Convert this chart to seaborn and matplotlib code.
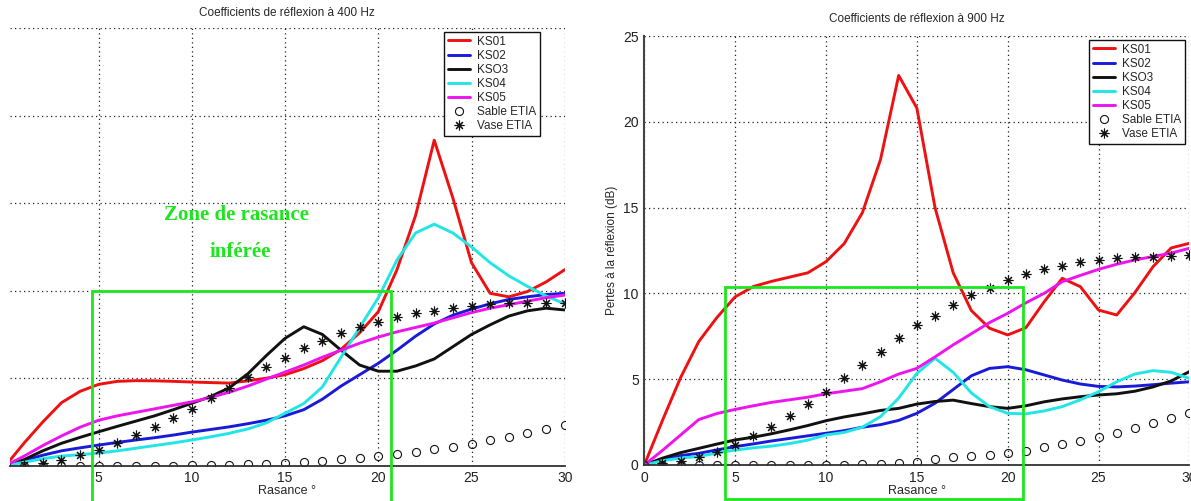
import numpy as np
import pandas as pd
import seaborn as sns
import matplotlib.pyplot as plt
from matplotlib.patches import Rectangle

sns.set_theme(style="white")
plt.rcParams['font.family'] = ['Liberation Sans', 'DejaVu Sans']

# rasance angles (deg)
rasance = list(range(0, 31))
rasance_etia = list(range(1, 31))

# --- 400 Hz ---
ks01_400 = [0, 1.3, 2.5, 3.6, 4.25, 4.65, 4.82, 4.86, 4.85, 4.82, 4.78, 4.75, 4.72, 4.85, 5.0,
            5.2, 5.55, 6.0, 6.65, 7.6, 8.8, 11.2, 14.3, 18.6, 15.3, 11.6, 9.85, 9.65, 9.95, 10.5, 11.2]
ks02_400 = [0, 0.3, 0.6, 0.85, 1.02, 1.18, 1.33, 1.47, 1.6, 1.75, 1.92, 2.07, 2.22, 2.4, 2.6,
            2.85, 3.2, 3.8, 4.55, 5.2, 5.85, 6.6, 7.4, 8.1, 8.6, 8.95, 9.25, 9.5, 9.65, 9.78, 9.85]
ks03_400 = [0, 0.35, 0.85, 1.28, 1.62, 1.94, 2.25, 2.55, 2.85, 3.2, 3.57, 3.95, 4.45, 5.25, 6.3,
            7.28, 7.94, 7.5, 6.6, 5.75, 5.4, 5.4, 5.7, 6.1, 6.8, 7.5, 8.05, 8.55, 8.85, 9.0, 8.9]
ks04_400 = [0, 0.2, 0.4, 0.55, 0.63, 0.72, 0.85, 1.0, 1.15, 1.3, 1.47, 1.65, 1.85, 2.1, 2.45,
            3.0, 3.55, 4.5, 6.2, 7.9, 9.6, 11.75, 13.3, 13.8, 13.3, 12.5, 11.6, 10.85, 10.25, 9.7, 9.25]
ks05_400 = [0, 0.55, 1.15, 1.7, 2.2, 2.6, 2.85, 3.05, 3.25, 3.45, 3.65, 3.9, 4.2, 4.55, 4.95,
            5.35, 5.75, 6.2, 6.6, 7.0, 7.35, 7.65, 7.9, 8.15, 8.45, 8.75, 9.0, 9.2, 9.4, 9.6, 9.75]
sable_400 = [0, 0, 0, 0, 0, 0, 0, 0, 0, 0, 0.02, 0.03, 0.05, 0.08, 0.12,
             0.18, 0.23, 0.29, 0.36, 0.46, 0.55, 0.67, 0.8, 0.93, 1.09, 1.24, 1.47, 1.66, 1.89, 2.12, 2.33]
vase_400 = [0.05, 0.13, 0.33, 0.61, 0.9, 1.31, 1.75, 2.23, 2.71, 3.22, 3.85, 4.42, 5.09, 5.62,
            6.17, 6.71, 7.14, 7.6, 7.94, 8.23, 8.48, 8.7, 8.86, 8.99, 9.13, 9.22, 9.28, 9.31, 9.31, 9.31]

# --- 900 Hz ---
ks01_900 = [0, 2.6, 5.1, 7.2, 8.6, 9.8, 10.4, 10.7, 10.95, 11.2, 11.85, 12.9, 14.7, 17.8, 22.7,
            20.8, 15.0, 11.2, 9.0, 7.97, 7.58, 8.0, 9.5, 10.88, 10.39, 9.03, 8.74, 10.05, 11.56, 12.65, 12.92]
ks02_900 = [0, 0.32, 0.55, 0.68, 0.88, 1.07, 1.23, 1.4, 1.55, 1.7, 1.85, 2.0, 2.2, 2.35, 2.6,
            3.01, 3.6, 4.4, 5.2, 5.63, 5.73, 5.55, 5.25, 4.95, 4.72, 4.58, 4.55, 4.6, 4.68, 4.77, 4.85]
ks03_900 = [0, 0.4, 0.72, 0.97, 1.22, 1.46, 1.62, 1.82, 2.05, 2.3, 2.58, 2.8, 2.98, 3.18, 3.3,
            3.55, 3.7, 3.78, 3.58, 3.4, 3.3, 3.45, 3.68, 3.85, 3.98, 4.08, 4.15, 4.3, 4.55, 4.9, 5.44]
ks04_900 = [0, 0.25, 0.4, 0.5, 0.7, 0.87, 1.0, 1.1, 1.25, 1.45, 1.75, 1.9, 2.2, 2.82, 3.9,
            5.34, 6.22, 5.4, 4.2, 3.4, 3.01, 2.98, 3.15, 3.4, 3.8, 4.27, 4.85, 5.3, 5.5, 5.4, 5.05]
ks05_900 = [0, 0.85, 1.75, 2.65, 3.0, 3.24, 3.45, 3.65, 3.8, 3.95, 4.15, 4.3, 4.45, 4.85, 5.3,
            5.63, 6.3, 7.0, 7.65, 8.3, 8.84, 9.45, 10.0, 10.68, 11.05, 11.4, 11.7, 11.95, 12.15, 12.35, 12.63]
sable_900 = [0, 0, 0, 0, 0, 0, 0, 0, 0, 0, 0, 0.02, 0.04, 0.08, 0.13,
             0.19, 0.33, 0.45, 0.52, 0.58, 0.72, 0.84, 1.03, 1.22, 1.42, 1.65, 1.88, 2.17, 2.43, 2.72, 3.05]
vase_900 = [0.1, 0.25, 0.48, 0.78, 1.17, 1.69, 2.23, 2.87, 3.55, 4.27, 5.05, 5.83, 6.57, 7.38,
            8.16, 8.7, 9.35, 9.91, 10.33, 10.78, 11.13, 11.4, 11.61, 11.81, 11.95, 12.04, 12.1, 12.14, 12.18, 12.24]

names = ["KS01", "KS02", "KSO3", "KS04", "KS05"]
colours = ["#ee1111", "#1a1ad9", "#111111", "#22e5e5", "#ee14ee"]
green = "#1ee61e"

fig = plt.figure(figsize=(11.91, 5.01), dpi=100)
ax1 = fig.add_axes([10 / 1191, 1 - 465.7 / 501, 554.7 / 1191, 437.5 / 501])
ax2 = fig.add_axes([644.3 / 1191, 1 - 465 / 501, 545.1 / 1191, 429 / 501])


def draw(ax, curves, sable, vase):
    for name, col, vals in zip(names, colours, curves):
        sns.lineplot(x=rasance, y=vals, ax=ax, color=col, linewidth=2.1, label=name)
    sns.lineplot(x=rasance, y=sable, ax=ax, linestyle="", marker="o", markersize=5.8,
                 markerfacecolor="none", markeredgecolor="#111111", markeredgewidth=0.8,
                 label="Sable ETIA")
    sns.lineplot(x=rasance_etia, y=vase, ax=ax, linestyle="", marker=(8, 2, 0), markersize=7,
                 color="#111111", markeredgecolor="#111111", markeredgewidth=0.8,
                 label="Vase ETIA")
    ax.set_ylim(0, 25)
    ax.set_xticks([0, 5, 10, 15, 20, 25, 30])
    ax.set_yticks([0, 5, 10, 15, 20, 25])
    ax.grid(True, linestyle=(0, (1, 2.6)), color="#222222", linewidth=0.9)
    ax.spines["top"].set_visible(False)
    ax.spines["right"].set_visible(False)
    ax.spines["bottom"].set_color("#333333")
    ax.spines["bottom"].set_linewidth(1.3)
    ax.tick_params(axis="both", labelsize=10, length=0, pad=4, colors="#222222")
    ax.set_xlabel("Rasance °", fontsize=9, labelpad=0)


draw(ax1, [ks01_400, ks02_400, ks03_400, ks04_400, ks05_400], sable_400, vase_400)
draw(ax2, [ks01_900, ks02_900, ks03_900, ks04_900, ks05_900], sable_900, vase_900)

# left panel is cropped: no y axis visible
ax1.set_xlim(0.24, 30)
ax1.spines["left"].set_visible(False)
ax1.set_yticklabels([])
ax1.set_xticklabels(["", "5", "10", "15", "20", "25", "30"])
ax1.set_title("Coefficients de réflexion à 400 Hz", fontsize=8.5, pad=9)

ax2.set_xlim(0, 30)
ax2.spines["left"].set_color("#444444")
ax2.spines["left"].set_linewidth(1.5)
ax2.set_ylabel("Pertes à la réflexion (dB)", fontsize=8.5, labelpad=4)
ax2.set_title("Coefficients de réflexion à 900 Hz", fontsize=8.5, pad=10)

for ax, corner in [(ax1, (540 / 1191, 1 - 32 / 501)), (ax2, (1185 / 1191, 1 - 40 / 501))]:
    leg = ax.legend(loc="upper right", bbox_to_anchor=corner, bbox_transform=fig.transFigure,
                    fontsize=8.5, frameon=True, fancybox=False, handlelength=1.9,
                    handletextpad=0.6, labelspacing=0.18, borderpad=0.3, borderaxespad=0)
    leg.get_frame().set_edgecolor("#111111")
    leg.get_frame().set_linewidth(1.0)
    leg.get_frame().set_alpha(1)

# inferred grazing-angle zone
zone_400 = (4.62, -2.1, 20.68 - 4.62, 10.0 + 2.1)
zone_900 = (4.46, -2.0, 20.86 - 4.46, 10.39 + 2.0)
for ax, (x0, y0, w, h) in [(ax1, zone_400), (ax2, zone_900)]:
    ax.add_patch(Rectangle((x0, y0), w, h, fill=False, edgecolor=green, linewidth=2.0,
                           clip_on=False, zorder=5))

ax1.text(12.4, 14.3, "Zone de rasance", color=green, fontsize=15, fontweight="bold",
         family=["Liberation Serif", "DejaVu Serif"], ha="center", va="center")
ax1.text(12.6, 12.2, "inférée", color=green, fontsize=15, fontweight="bold",
         family=["Liberation Serif", "DejaVu Serif"], ha="center", va="center")

fig.savefig("out.png", dpi=100)
